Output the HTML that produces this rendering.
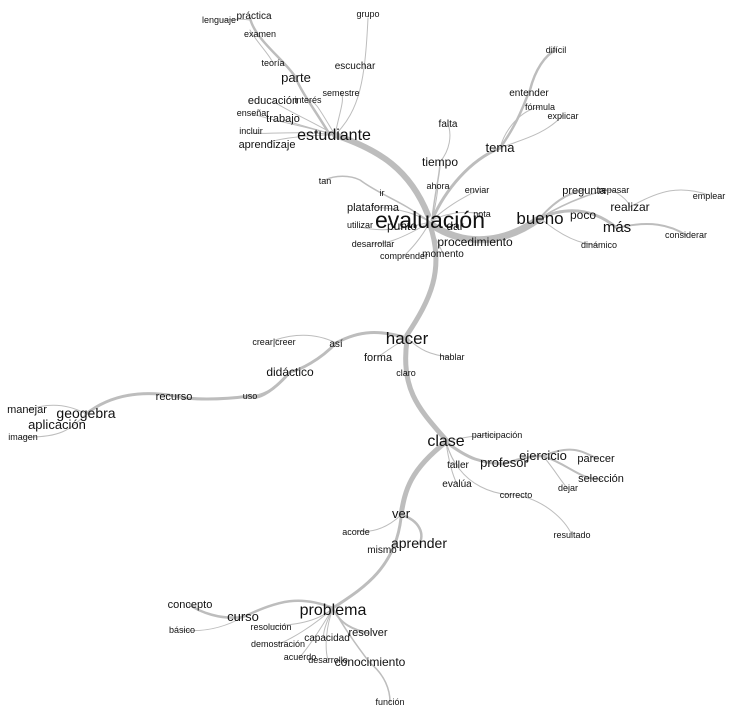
<!DOCTYPE html>
<html><head><meta charset="utf-8"><style>
html,body{margin:0;padding:0;background:#fff;width:734px;height:716px;overflow:hidden}
svg{display:block}
text{font-family:"Liberation Sans",Arial,sans-serif;fill:#111;text-anchor:middle}
path{fill:none;stroke:#bdbdbd;stroke-linecap:round}
</style></head><body>
<svg width="734" height="716" viewBox="0 0 734 716">
<g>
<!-- trunk -->
<path d="M335,135 C380,150 410,170 428,215" stroke-width="6"/>
<path d="M430,225 C445,270 430,300 407,335" stroke-width="5"/>
<path d="M407,340 C400,390 420,410 446,440" stroke-width="5"/>
<path d="M446,442 C410,470 405,490 401,515" stroke-width="5"/>
<path d="M401,518 C395,570 360,590 333,608" stroke-width="3"/>
<path d="M432,225 C470,250 510,240 540,218" stroke-width="7"/>
<!-- estudiante branch -->
<path d="M330,135 C315,110 300,90 296,78" stroke-width="2.5"/>
<path d="M296,78 C285,60 255,40 250,18" stroke-width="2.5"/>
<path d="M250,20 C240,18 230,20 222,20" stroke-width="1"/>
<path d="M250,30 C255,40 270,55 273,63" stroke-width="1"/>
<path d="M335,135 C360,110 365,80 368,18" stroke-width="1"/>
<path d="M335,135 C340,110 345,100 341,92" stroke-width="1"/>
<path d="M335,135 C310,120 285,110 273,101" stroke-width="1"/>
<path d="M335,135 C300,125 270,120 253,114" stroke-width="1"/>
<path d="M335,135 C300,135 270,140 267,144" stroke-width="1"/>
<path d="M335,135 C300,125 290,122 283,120" stroke-width="1"/>
<path d="M335,135 C300,130 260,135 251,133" stroke-width="1"/>
<path d="M335,135 C320,110 315,100 308,100" stroke-width="1"/>
<!-- tema branch -->
<path d="M432,220 C445,190 470,160 500,148" stroke-width="3"/>
<path d="M500,148 C520,120 525,100 530,90 C535,70 545,55 556,50" stroke-width="2.5"/>
<path d="M500,148 C520,140 545,135 563,115" stroke-width="1"/>
<path d="M500,148 C505,130 520,110 540,107" stroke-width="1"/>
<path d="M432,220 C435,190 440,175 440,162" stroke-width="1.5"/>
<path d="M440,162 C450,150 452,135 448,124" stroke-width="1"/>
<path d="M432,220 C436,205 437,195 438,187" stroke-width="1"/>
<path d="M432,220 C455,200 470,195 477,190" stroke-width="1"/>
<path d="M432,220 C455,210 470,212 482,214" stroke-width="1"/>
<!-- left of evaluación -->
<path d="M430,222 C400,200 380,195 360,180 C350,175 335,175 325,180" stroke-width="1.5"/>
<path d="M430,222 C410,210 390,208 373,207" stroke-width="1"/>
<path d="M430,222 C400,230 380,232 360,227" stroke-width="1"/>
<path d="M430,222 C400,240 385,244 373,244" stroke-width="1"/>
<path d="M430,222 C420,240 410,250 404,256" stroke-width="1"/>
<path d="M430,222 C432,235 440,245 443,254" stroke-width="1"/>
<!-- bueno branch -->
<path d="M540,218 C560,195 575,192 584,190" stroke-width="2"/>
<path d="M540,218 C570,200 600,190 612,190" stroke-width="1.5"/>
<path d="M540,218 C570,205 595,210 617,228" stroke-width="3"/>
<path d="M617,228 C650,220 670,225 686,235" stroke-width="2"/>
<path d="M612,190 C630,200 630,207 630,207 C660,190 680,185 709,195" stroke-width="1"/>
<path d="M540,218 C560,235 580,245 599,245" stroke-width="1"/>
<!-- hacer branch -->
<path d="M407,338 C380,330 360,330 336,343 C320,360 300,370 290,372 C270,395 255,400 250,396 C220,400 190,400 175,396 C140,390 110,395 86,414" stroke-width="3"/>
<path d="M290,372 C280,385 265,395 250,396" stroke-width="1"/>
<path d="M336,343 C320,335 300,332 275,340" stroke-width="1"/>
<path d="M407,338 C420,350 430,355 450,357" stroke-width="1"/>
<path d="M407,338 C395,345 385,352 378,357" stroke-width="1"/>
<path d="M86,414 C70,405 50,402 27,410" stroke-width="1"/>
<path d="M86,414 C70,430 60,438 23,437" stroke-width="1"/>
<!-- clase branch -->
<path d="M446,442 C470,460 480,462 504,464" stroke-width="3"/>
<path d="M504,464 C520,458 535,456 543,456" stroke-width="2.5"/>
<path d="M543,456 C570,445 580,450 596,458" stroke-width="2"/>
<path d="M543,456 C570,465 580,480 601,479" stroke-width="2"/>
<path d="M543,456 C555,470 560,480 568,489" stroke-width="1"/>
<path d="M446,442 C470,435 485,435 497,435" stroke-width="1"/>
<path d="M446,442 C460,490 500,495 516,495 C545,500 565,520 572,535" stroke-width="1"/>
<path d="M446,442 C450,455 455,465 458,465" stroke-width="1"/>
<path d="M446,442 C450,470 455,480 457,484" stroke-width="1"/>
<!-- ver / problema -->
<path d="M401,515 C420,520 425,535 419,544" stroke-width="2.5"/>
<path d="M401,515 C385,530 370,533 356,531" stroke-width="1"/>
<path d="M333,608 C300,595 280,600 243,617 C220,620 200,612 190,605" stroke-width="2.5"/>
<path d="M243,617 C220,630 200,632 182,630" stroke-width="1"/>
<path d="M333,608 C320,620 300,625 271,626" stroke-width="1"/>
<path d="M333,608 C315,625 290,640 278,644" stroke-width="1"/>
<path d="M333,608 C325,625 320,640 327,638" stroke-width="1"/>
<path d="M333,608 C340,625 355,630 368,633" stroke-width="2"/>
<path d="M333,608 C345,630 360,650 370,663 C385,675 390,690 390,702" stroke-width="1.5"/>
<path d="M333,608 C320,630 310,645 300,657" stroke-width="1"/>
<path d="M333,608 C325,630 325,650 328,660" stroke-width="1"/>
</g>
<g>
<text x="219" y="23" font-size="9">lenguaje</text>
<text x="254" y="19" font-size="10">práctica</text>
<text x="260" y="37" font-size="9">examen</text>
<text x="368" y="17" font-size="9">grupo</text>
<text x="273" y="66" font-size="9">teoría</text>
<text x="355" y="69" font-size="10">escuchar</text>
<text x="296" y="82" font-size="13">parte</text>
<text x="341" y="96" font-size="9">semestre</text>
<text x="273" y="104" font-size="11">educación</text>
<text x="308" y="103" font-size="9">interés</text>
<text x="253" y="116" font-size="9">enseñar</text>
<text x="283" y="122" font-size="11">trabajo</text>
<text x="251" y="134" font-size="9">incluir</text>
<text x="334" y="140" font-size="16">estudiante</text>
<text x="267" y="148" font-size="11">aprendizaje</text>
<text x="556" y="53" font-size="9">difícil</text>
<text x="529" y="96" font-size="10">entender</text>
<text x="540" y="110" font-size="9">fórmula</text>
<text x="563" y="119" font-size="9">explicar</text>
<text x="448" y="127" font-size="10">falta</text>
<text x="500" y="152" font-size="13">tema</text>
<text x="440" y="166" font-size="12">tiempo</text>
<text x="325" y="184" font-size="9">tan</text>
<text x="438" y="189" font-size="9">ahora</text>
<text x="477" y="193" font-size="9">enviar</text>
<text x="382" y="196" font-size="9">ir</text>
<text x="584" y="194" font-size="11">pregunta</text>
<text x="614" y="193" font-size="9">repasar</text>
<text x="709" y="199" font-size="9">emplear</text>
<text x="373" y="211" font-size="11">plataforma</text>
<text x="630" y="211" font-size="12">realizar</text>
<text x="482" y="217" font-size="9">nota</text>
<text x="360" y="228" font-size="9">utilizar</text>
<text x="402" y="230" font-size="12">punto</text>
<text x="455" y="230" font-size="12">dar</text>
<text x="430" y="228" font-size="23">evaluación</text>
<text x="540" y="224" font-size="17">bueno</text>
<text x="583" y="219" font-size="12">poco</text>
<text x="617" y="232" font-size="15">más</text>
<text x="686" y="238" font-size="9">considerar</text>
<text x="373" y="247" font-size="9">desarrollar</text>
<text x="475" y="246" font-size="12">procedimiento</text>
<text x="599" y="248" font-size="9">dinámico</text>
<text x="404" y="259" font-size="9">comprender</text>
<text x="443" y="257" font-size="10">momento</text>
<text x="274" y="345" font-size="9">crear|creer</text>
<text x="407" y="344" font-size="17">hacer</text>
<text x="336" y="347" font-size="10">así</text>
<text x="378" y="361" font-size="11">forma</text>
<text x="452" y="360" font-size="9">hablar</text>
<text x="290" y="376" font-size="12">didáctico</text>
<text x="406" y="376" font-size="9">claro</text>
<text x="174" y="400" font-size="11">recurso</text>
<text x="250" y="399" font-size="9">uso</text>
<text x="27" y="413" font-size="11">manejar</text>
<text x="86" y="418" font-size="14">geogebra</text>
<text x="57" y="429" font-size="13">aplicación</text>
<text x="23" y="440" font-size="9">imagen</text>
<text x="497" y="438" font-size="9">participación</text>
<text x="446" y="446" font-size="16">clase</text>
<text x="543" y="460" font-size="13">ejercicio</text>
<text x="596" y="462" font-size="11">parecer</text>
<text x="504" y="467" font-size="13">profesor</text>
<text x="458" y="468" font-size="10">taller</text>
<text x="601" y="482" font-size="11">selección</text>
<text x="457" y="487" font-size="10">evalúa</text>
<text x="568" y="491" font-size="9">dejar</text>
<text x="516" y="498" font-size="9">correcto</text>
<text x="572" y="538" font-size="9">resultado</text>
<text x="401" y="518" font-size="13">ver</text>
<text x="356" y="535" font-size="9">acorde</text>
<text x="419" y="548" font-size="14">aprender</text>
<text x="382" y="553" font-size="10">mismo</text>
<text x="190" y="608" font-size="11">concepto</text>
<text x="333" y="615" font-size="16">problema</text>
<text x="243" y="621" font-size="13">curso</text>
<text x="271" y="630" font-size="9">resolución</text>
<text x="182" y="633" font-size="9">básico</text>
<text x="368" y="636" font-size="11">resolver</text>
<text x="327" y="641" font-size="10">capacidad</text>
<text x="278" y="647" font-size="9">demostración</text>
<text x="300" y="660" font-size="9">acuerdo</text>
<text x="328" y="663" font-size="9">desarrollo</text>
<text x="370" y="666" font-size="12">conocimiento</text>
<text x="390" y="705" font-size="9">función</text>
</g>
</svg>
</body></html>
